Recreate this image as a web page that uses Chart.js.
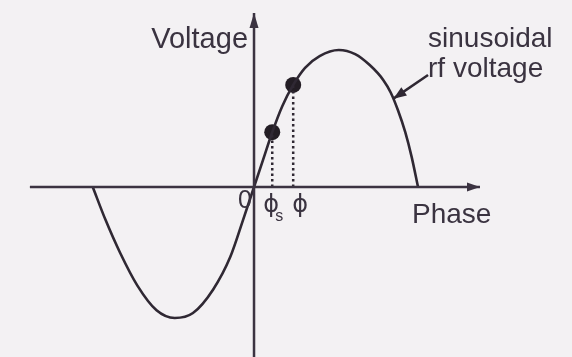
<!DOCTYPE html>
<html>
<head>
<meta charset="utf-8">
<script src="https://cdn.jsdelivr.net/npm/chart.js@4/dist/chart.umd.min.js"></script>
<style>
  html, body { margin: 0; padding: 0; background: #f3f1f3; }
  #wrap { width: 572px; height: 357px; }
</style>
</head>
<body>
<div id="wrap"><canvas id="c" width="572" height="357"></canvas></div>
<script>
// Sinusoidal rf voltage versus phase (phase in degrees, voltage normalised to the peak)
const phase   = [-177, -163, -147, -128, -107, -87, -67, -45, -26, -12, 0,
                   10, 20, 31, 43, 56, 72, 93, 111, 127, 142, 150, 158, 166, 173, 180];
const voltage = [0, -0.24, -0.48, -0.72, -0.90, -0.956, -0.92, -0.75, -0.51, -0.24, 0,
                 0.20, 0.40, 0.59, 0.745, 0.87, 0.955, 1.0, 0.97, 0.89, 0.78, 0.69, 0.56, 0.40, 0.22, 0];

// Synchronous phase and a particle phase, marked on the curve
const markNames   = ['ϕ', 'ϕ'];
const markSub     = ['s', ''];
const markPhase   = [20, 43];
const markVoltage = [0.40, 0.745];

// Axis extents
const phaseAxis   = [-246, 248];
const voltageAxis = [-1.25, 1.27];

// Axis and annotation texts
const axisTitleV = 'Voltage';
const axisTitleP = 'Phase';
const originText = '0';
const curveNote  = ['sinusoidal', 'rf voltage'];
const noteArrowFrom = { x: 191, y: 0.818 };
const noteArrowTo   = { x: 153, y: 0.645 };

const INK = '#2f2833';
const AXIS = '#3b3341';

const pts = (xs, ys) => xs.map((x, i) => ({ x, y: ys[i] }));

const datasets = [
  { // horizontal phase axis
    data: [{ x: phaseAxis[0], y: 0 }, { x: phaseAxis[1], y: 0 }],
    showLine: true, borderColor: AXIS, borderWidth: 2.5, pointRadius: 0
  },
  { // vertical voltage axis
    data: [{ x: 0, y: voltageAxis[0] }, { x: 0, y: voltageAxis[1] }],
    showLine: true, borderColor: AXIS, borderWidth: 2.5, pointRadius: 0
  },
  { // rf voltage curve
    data: pts(phase, voltage),
    showLine: true, borderColor: INK, borderWidth: 2.6, pointRadius: 0,
    cubicInterpolationMode: 'monotone'
  }
];
markPhase.forEach((p, i) => {
  datasets.push({ // dotted drop line to the phase axis
    data: [{ x: p, y: 0 }, { x: p, y: markVoltage[i] }],
    showLine: true, borderColor: INK, borderWidth: 2.5, borderDash: [2.5, 3],
    pointRadius: 0
  });
});
datasets.push({ // marked particles
  data: pts(markPhase, markVoltage),
  showLine: false, pointRadius: 8, pointBackgroundColor: '#231d24',
  pointBorderColor: '#231d24', pointBorderWidth: 0
});

function arrowHead(ctx, x1, y1, x2, y2, len, half) {
  const a = Math.atan2(y2 - y1, x2 - x1);
  ctx.beginPath();
  ctx.moveTo(x2, y2);
  ctx.lineTo(x2 - len * Math.cos(a) + half * Math.sin(a), y2 - len * Math.sin(a) - half * Math.cos(a));
  ctx.lineTo(x2 - len * Math.cos(a) - half * Math.sin(a), y2 - len * Math.sin(a) + half * Math.cos(a));
  ctx.closePath();
  ctx.fill();
}

const annotations = {
  id: 'annotations',
  afterDatasetsDraw(chart) {
    const { ctx, scales: { x, y } } = chart;
    const X = v => x.getPixelForValue(v);
    const Y = v => y.getPixelForValue(v);
    ctx.save();
    ctx.fillStyle = AXIS;
    ctx.strokeStyle = INK;
    // axis arrowheads
    arrowHead(ctx, X(0), Y(0), X(phaseAxis[1]), Y(0), 13, 4.5);
    arrowHead(ctx, X(0), Y(0), X(0), Y(voltageAxis[1]), 15, 4.5);
    // arrow pointing from the note to the curve
    ctx.fillStyle = INK;
    ctx.lineWidth = 2.5;
    ctx.beginPath();
    ctx.moveTo(X(noteArrowFrom.x), Y(noteArrowFrom.y));
    ctx.lineTo(X(noteArrowTo.x), Y(noteArrowTo.y));
    ctx.stroke();
    arrowHead(ctx, X(noteArrowFrom.x), Y(noteArrowFrom.y), X(noteArrowTo.x), Y(noteArrowTo.y), 13, 5);

    // texts
    ctx.fillStyle = '#3a3340';
    ctx.textBaseline = 'alphabetic';
    ctx.font = '29px "Liberation Sans", Arial, sans-serif';
    ctx.textAlign = 'right';
    ctx.fillText(axisTitleV, X(-6.6), Y(1.015));
    ctx.font = '28px "Liberation Sans", Arial, sans-serif';
    ctx.textAlign = 'left';
    ctx.fillText(axisTitleP, X(173.4), Y(-0.263));
    ctx.fillText(curveNote[0], X(191), Y(1.022));
    ctx.fillText(curveNote[1], X(191), Y(0.803));
    ctx.font = '25px "Liberation Sans", Arial, sans-serif';
    ctx.textAlign = 'center';
    ctx.fillText(originText, X(-9.9), Y(-0.153));
    // phase labels under the drop lines
    const phiX = [X(markPhase[0]) - 1, X(markPhase[1]) + 7];
    markNames.forEach((name, i) => {
      ctx.font = '24px "DejaVu Sans", sans-serif';
      ctx.fillText(name, phiX[i], Y(-0.18));
      if (markSub[i]) {
        ctx.font = '16px "Liberation Sans", Arial, sans-serif';
        ctx.fillText(markSub[i], phiX[i] + 8, Y(-0.25));
      }
    });
    ctx.restore();
  }
};

new Chart(document.getElementById('c'), {
  type: 'scatter',
  data: { datasets },
  options: {
    responsive: false,
    devicePixelRatio: 1,
    animation: false,
    layout: { padding: 0, autoPadding: false },
    plugins: { legend: { display: false }, tooltip: { enabled: false } },
    scales: {
      x: { type: 'linear', display: false, min: -278.8, max: 349.0 },
      y: { type: 'linear', display: false, min: -1.241, max: 1.365 }
    },
    elements: { line: { borderCapStyle: 'butt' } }
  },
  plugins: [annotations]
});
</script>
</body>
</html>
